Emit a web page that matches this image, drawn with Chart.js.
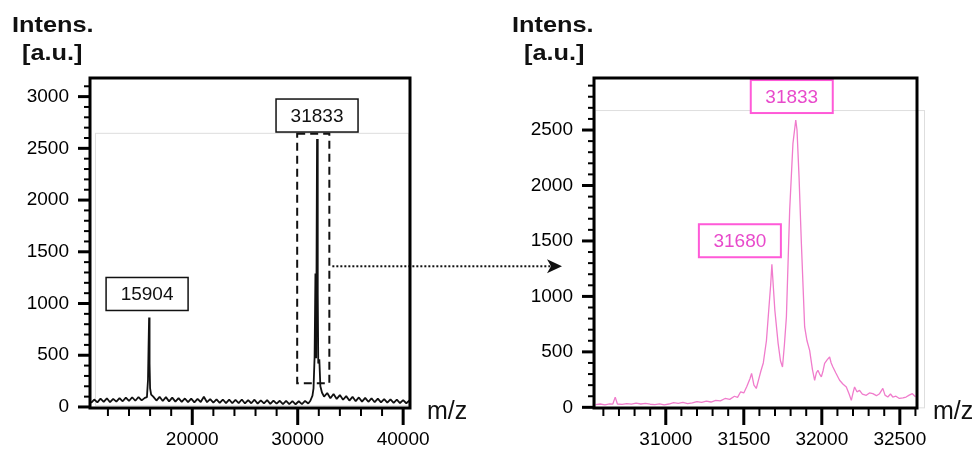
<!DOCTYPE html>
<html>
<head>
<meta charset="utf-8">
<title>MALDI spectrum</title>
<script src="https://cdn.jsdelivr.net/npm/chart.js@4.4.1/dist/chart.umd.min.js"></script>
<style>
  html, body { margin: 0; padding: 0; background: #fff; }
  #wrap { position: relative; width: 979px; height: 449px; overflow: hidden; font-family: 'Liberation Sans', Arial, sans-serif; color: #111; }
  canvas { position: absolute; top: 0; }
  #survey { left: 0; z-index: 1; }
  #zoom { left: 500px; z-index: 2; }
  .ttl { position: absolute; font-weight: bold; font-size: 22px; line-height: 22px; transform: scaleX(1.15); transform-origin: 0 0; white-space: nowrap; z-index: 3; }
  .mz { position: absolute; font-size: 25px; line-height: 25px; white-space: nowrap; z-index: 3; }
</style>
</head>
<body>
<div id="wrap">
  <canvas id="survey" width="580" height="449"></canvas>
  <canvas id="zoom" width="479" height="449"></canvas>
  <div class="ttl" style="left:12px; top:14px;">Intens.</div>
  <div class="ttl" style="left:22px; top:42px;">[a.u.]</div>
  <div class="ttl" style="left:512px; top:14px;">Intens.</div>
  <div class="ttl" style="left:524px; top:42px;">[a.u.]</div>
  <div class="mz" style="left:427px; top:398px;">m/z</div>
  <div class="mz" style="left:933px; top:398px;">m/z</div>
</div>
<script>
// full range spectrum
const surveyMz = [10400, 10700, 11000, 11300, 11600, 11900, 12200, 12500, 12800, 13100,
  13400, 13700, 14000, 14300, 14600, 14900, 15200, 15500, 15700, 15800,
  15850, 15904, 15950, 16000, 16100, 16300, 16600, 16900, 17200, 17500,
  17800, 18100, 18400, 18700, 19000, 19300, 19600, 19900, 20200, 20500,
  20800, 21100, 21400, 21700, 22000, 22300, 22600, 22900, 23200, 23500,
  23800, 24100, 24400, 24700, 25000, 25300, 25600, 25900, 26200, 26500,
  26800, 27100, 27400, 27700, 28000, 28300, 28600, 28900, 29200, 29500,
  29800, 30100, 30400, 30700, 31000, 31200, 31400, 31500, 31600, 31680,
  31750, 31833, 31900, 31950, 32050, 32150, 32300, 32500, 32800, 33100,
  33400, 33700, 34000, 34300, 34600, 34900, 35200, 35500, 35800, 36100,
  36400, 36700, 37000, 37300, 37600, 37900, 38200, 38500, 38800, 39100,
  39400, 39700, 40000, 40300, 40600];
const surveyIntens = [40, 72, 45, 80, 50, 84, 46, 78, 52, 86,
  55, 90, 58, 94, 60, 96, 64, 88, 95, 260,
  560, 865, 420, 180, 120, 100, 62, 98, 58, 95,
  54, 90, 52, 86, 50, 82, 46, 80, 44, 78,
  48, 98, 46, 76, 42, 74, 40, 72, 38, 70,
  36, 68, 38, 72, 34, 66, 36, 70, 32, 64,
  34, 66, 30, 62, 32, 60, 28, 58, 27, 56,
  26, 55, 28, 58, 34, 60, 110, 180, 480, 1290,
  470, 2590, 1100, 420, 460, 200, 140, 100, 135, 85,
  125, 78, 115, 70, 105, 62, 98, 56, 92, 52,
  88, 50, 84, 46, 80, 44, 76, 42, 74, 40,
  70, 38, 66, 36, 62];
const surveyPeaks = [15904, 31833];
const surveyXTicks = [20000, 30000, 40000];
const surveyYTicks = [0, 500, 1000, 1500, 2000, 2500, 3000];

// close-up around the 31833 peak
const zoomMz = [30550, 30580, 30610, 30640, 30660, 30676, 30690, 30720, 30750, 30780,
  30810, 30840, 30870, 30900, 30930, 30960, 30990, 31020, 31050, 31080,
  31110, 31140, 31170, 31200, 31230, 31260, 31290, 31320, 31350, 31380,
  31410, 31440, 31460, 31480, 31500, 31520, 31540, 31550, 31565, 31580,
  31595, 31610, 31625, 31645, 31660, 31672, 31680, 31699, 31720, 31735,
  31748, 31760, 31773, 31794, 31815, 31833, 31841, 31854, 31869, 31890,
  31905, 31922, 31940, 31954, 31965, 31975, 31986, 31997, 32008, 32018,
  32035, 32050, 32060, 32071, 32090, 32114, 32135, 32157, 32175, 32189,
  32200, 32210, 32225, 32242, 32260, 32285, 32305, 32327, 32350, 32370,
  32391, 32405, 32423, 32440, 32455, 32475, 32497, 32520, 32540, 32560,
  32580, 32600];
const zoomIntens = [25, 30, 22, 32, 28, 92, 30, 26, 34, 28,
  38, 30, 36, 28, 24, 32, 22, 30, 42, 36,
  44, 34, 40, 52, 44, 56, 48, 62, 58, 80,
  72, 100, 90, 140, 130, 190, 260, 306, 200, 170,
  250, 330, 400, 600, 880, 1100, 1290, 875, 577, 420,
  364, 560, 815, 1778, 2380, 2590, 2500, 2080, 1480, 725,
  600, 514, 340, 244, 310, 334, 300, 274, 330, 397,
  430, 454, 400, 364, 310, 244, 210, 183, 120, 63,
  130, 183, 140, 153, 120, 108, 130, 123, 105, 123,
  171, 110, 93, 120, 93, 100, 80, 85, 93, 110,
  123, 95];
const zoomPeaks = [31833, 31680];
const zoomXTicks = [31000, 31500, 32000, 32500];
const zoomYTicks = [0, 500, 1000, 1500, 2000, 2500];

// m/z window of the close-up, marked on the full spectrum
const zoomWindow = { mzFrom: 29950, mzTo: 33000, intFrom: 230, intTo: 2640 };

const FONT = "'Liberation Sans', Arial, sans-serif";
const PINK_LINE = '#f07ccc';
const PINK_TEXT = '#e84acb';

function toPoints(xs, ys) {
  return xs.map((x, i) => ({ x: x, y: ys[i] }));
}

function stepTicks(from, to, step) {
  const out = [];
  for (let v = from; v <= to; v += step) out.push({ value: v });
  return out;
}

// black box frame + long/short tick marks
const framePlugin = {
  id: 'frame',
  beforeDatasetsDraw(chart, args, opts) {
    if (!opts.faint) return;
    const { ctx, scales: { x, y } } = chart;
    const f = opts.faint;
    const l = x.getPixelForValue(f[0]), r = x.getPixelForValue(f[1]);
    const b = y.getPixelForValue(f[2]), t = y.getPixelForValue(f[3]);
    ctx.save();
    ctx.strokeStyle = '#dedede';
    ctx.lineWidth = 1;
    ctx.strokeRect(l + 0.5, t + 0.5, r - l, b - t);
    ctx.restore();
  },
  afterDraw(chart, args, opts) {
    const { ctx, chartArea: a, scales: { x, y } } = chart;
    ctx.save();
    ctx.strokeStyle = '#000';
    x.ticks.forEach(t => {
      const px = x.getPixelForValue(t.value);
      const major = opts.xMajor.includes(t.value);
      ctx.lineWidth = major ? 3 : 2;
      ctx.beginPath();
      ctx.moveTo(px, a.bottom);
      ctx.lineTo(px, a.bottom + (major ? 17 : 8));
      ctx.stroke();
    });
    y.ticks.forEach(t => {
      const py = y.getPixelForValue(t.value);
      const major = opts.yMajor.includes(t.value);
      ctx.lineWidth = major ? 3 : 2;
      ctx.beginPath();
      ctx.moveTo(a.left, py);
      ctx.lineTo(a.left - (major ? 12 : 6), py);
      ctx.stroke();
    });
    ctx.lineWidth = 3;
    ctx.strokeRect(a.left, a.top, a.right - a.left, a.bottom - a.top);
    ctx.restore();
  }
};

// dashed zoom window and the dotted arrow pointing to the close-up
const windowPlugin = {
  id: 'zoomWindow',
  afterDatasetsDraw(chart) {
    const { ctx, chartArea: a, scales: { x, y } } = chart;
    const l = x.getPixelForValue(zoomWindow.mzFrom), r = x.getPixelForValue(zoomWindow.mzTo);
    const t = y.getPixelForValue(zoomWindow.intTo), b = y.getPixelForValue(zoomWindow.intFrom);
    ctx.save();
    ctx.strokeStyle = '#111';
    ctx.lineWidth = 2;
    ctx.setLineDash([8, 5]);
    ctx.strokeRect(l, t, r - l, b - t);

    const ay = y.getPixelForValue(1360);
    const tip = a.right + 152;
    ctx.setLineDash([2, 2]);
    ctx.beginPath();
    ctx.moveTo(r + 3, ay);
    ctx.lineTo(tip - 10, ay);
    ctx.stroke();
    ctx.setLineDash([]);
    ctx.fillStyle = '#111';
    ctx.beginPath();
    ctx.moveTo(tip, ay);
    ctx.lineTo(tip - 15, ay - 7);
    ctx.lineTo(tip - 11, ay);
    ctx.lineTo(tip - 15, ay + 7);
    ctx.closePath();
    ctx.fill();
    ctx.restore();
  }
};

// boxed m/z labels above the peaks
const peakTagPlugin = {
  id: 'peakTags',
  afterDatasetsDraw(chart, args, opts) {
    const { ctx, scales: { x, y } } = chart;
    const pts = chart.data.datasets[0].data;
    ctx.save();
    ctx.font = '19px ' + FONT;
    ctx.textAlign = 'center';
    ctx.textBaseline = 'middle';
    opts.peaks.forEach((mz, i) => {
      const pt = pts.find(p => p.x === mz);
      const cx = x.getPixelForValue(mz) + (opts.shift[i] || 0);
      const bottom = y.getPixelForValue(pt.y) - 7;
      const w = 82, h = 33;
      ctx.fillStyle = '#fff';
      ctx.fillRect(cx - w / 2, bottom - h, w, h);
      ctx.lineWidth = opts.lineWidth;
      ctx.strokeStyle = opts.border;
      ctx.strokeRect(cx - w / 2, bottom - h, w, h);
      ctx.fillStyle = opts.color;
      ctx.fillText(String(mz), cx, bottom - h / 2 + 1);
    });
    ctx.restore();
  }
};

function buildScales(cfg) {
  return {
    x: {
      type: 'linear', min: cfg.xMin, max: cfg.xMax,
      afterBuildTicks: s => { s.ticks = stepTicks(cfg.xFrom, cfg.xTo, cfg.xStep); },
      afterFit: s => { s.height = 41; },
      grid: { display: true, drawOnChartArea: false, drawTicks: true, tickLength: 17, color: 'rgba(0,0,0,0)' },
      border: { display: false },
      ticks: {
        autoSkip: false, maxRotation: 0, minRotation: 0, padding: 3, color: '#000',
        font: { family: FONT, size: 19 },
        callback: v => cfg.xMajor.includes(v) ? String(v) : ''
      }
    },
    y: {
      type: 'linear', min: cfg.yMin, max: cfg.yMax,
      afterBuildTicks: s => { s.ticks = stepTicks(0, cfg.yTo, 100); },
      afterFit: s => { s.width = cfg.yWidth; },
      grid: { display: true, drawOnChartArea: false, drawTicks: true, tickLength: 12, color: 'rgba(0,0,0,0)' },
      border: { display: false },
      ticks: {
        autoSkip: false, padding: 9, color: '#000',
        font: { family: FONT, size: 19 },
        callback: v => cfg.yMajor.includes(v) ? String(v) : ''
      }
    }
  };
}

new Chart(document.getElementById('survey'), {
  type: 'scatter',
  data: {
    datasets: [{
      data: toPoints(surveyMz, surveyIntens),
      showLine: true,
      borderColor: '#111',
      borderWidth: 1.8,
      borderJoinStyle: 'bevel',
      pointRadius: 0
    }]
  },
  options: {
    responsive: false,
    animation: false,
    layout: { padding: { left: 0, top: 78, right: 170, bottom: 0 } },
    scales: buildScales({
      xMin: 10300, xMax: 40650, xFrom: 12000, xTo: 40000, xStep: 2000, xMajor: surveyXTicks,
      yMin: -10, yMax: 3180, yTo: 3100, yMajor: surveyYTicks, yWidth: 90
    }),
    plugins: {
      legend: { display: false },
      tooltip: { enabled: false },
      frame: { xMajor: surveyXTicks, yMajor: surveyYTicks, faint: [10770, 40470, 20, 2650] },
      peakTags: { peaks: surveyPeaks, shift: [-2, 0], color: '#111', border: '#111', lineWidth: 1.5 }
    }
  },
  plugins: [framePlugin, windowPlugin, peakTagPlugin]
});

new Chart(document.getElementById('zoom'), {
  type: 'scatter',
  data: {
    datasets: [{
      data: toPoints(zoomMz, zoomIntens),
      showLine: true,
      borderColor: PINK_LINE,
      borderWidth: 1.3,
      borderJoinStyle: 'bevel',
      pointRadius: 0
    }]
  },
  options: {
    responsive: false,
    animation: false,
    layout: { padding: { left: 0, top: 78, right: 62, bottom: 0 } },
    scales: buildScales({
      xMin: 30540, xMax: 32610, xFrom: 30600, xTo: 32600, xStep: 100, xMajor: zoomXTicks,
      yMin: -6, yMax: 2969, yTo: 2900, yMajor: zoomYTicks, yWidth: 94
    }),
    plugins: {
      legend: { display: false },
      tooltip: { enabled: false },
      frame: { xMajor: zoomXTicks, yMajor: zoomYTicks, faint: [30545, 32655, 0, 2680] },
      peakTags: { peaks: zoomPeaks, shift: [-4, -32], color: PINK_TEXT, border: '#ff5ad8', lineWidth: 2 }
    }
  },
  plugins: [framePlugin, peakTagPlugin]
});
</script>
</body>
</html>
